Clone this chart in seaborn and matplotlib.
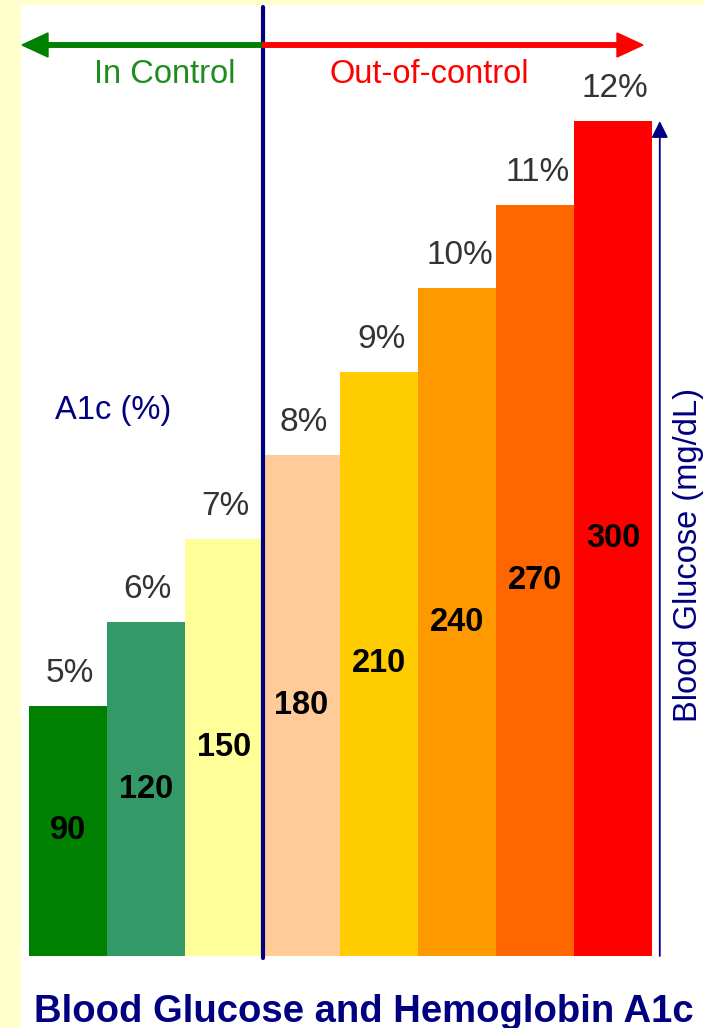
import matplotlib
matplotlib.use("Agg")
import matplotlib.pyplot as plt
from matplotlib.patches import Rectangle, FancyArrow
from matplotlib.transforms import IdentityTransform
import seaborn as sns
import pandas as pd

# A1c level and the matching average blood glucose
a1c_pct = [5, 6, 7, 8, 9, 10, 11, 12]
glucose = [90, 120, 150, 180, 210, 240, 270, 300]
a1c_labels = [f"{v}%" for v in a1c_pct]
bar_colors = ["#008000", "#339966", "#FFFF99", "#FFCC99",
              "#FFCC00", "#FF9900", "#FF6600", "#FF0000"]
n_in_control = 3
zone_labels = ["In Control", "Out-of-control"]
x_label = "A1c (%)"
y_label = "Blood Glucose (mg/dL)"
title = "Blood Glucose and Hemoglobin A1c"

W, H, DPI = 704, 1028, 100
NAVY = "#000080"

sns.set_theme(style="white")
plt.rcParams["font.family"] = ["Liberation Sans", "DejaVu Sans"]


def fx(px):
    return px / W


def fy(py):
    return 1 - py / H


fig = plt.figure(figsize=(W / DPI, H / DPI), dpi=DPI)
fig.patch.set_facecolor("#FFFFCC")
fig.add_artist(Rectangle((fx(21), 0), 1 - fx(21), 1 - 5 / H,
                         transform=fig.transFigure, facecolor="white",
                         edgecolor="none", zorder=0))

# bar panel: 8 contiguous bars, baseline near the bottom
ax = fig.add_axes([fx(29), fy(956), (652 - 29) / W, (956 - 5) / H])
ax.patch.set_visible(False)

df = pd.DataFrame({"a1c": a1c_labels, "glucose": glucose})
sns.barplot(data=df, x="a1c", y="glucose", hue="a1c", palette=bar_colors,
            width=1.0, saturation=1, linewidth=0, legend=False, ax=ax)
ax.set_xlim(-0.5, len(glucose) - 0.5)
ax.set_ylim(0, 951 / 2.783)
ax.axis("off")

for i, (lab, val) in enumerate(zip(a1c_labels, glucose)):
    ax.annotate(lab, (i, val), xytext=(1.5, 17), textcoords="offset points",
                ha="center", va="baseline", fontsize=24, color="#333333")
    ax.text(i, val / 2, str(val), ha="center", va="center", fontsize=23.5,
            fontweight="bold", color="black")

# divider between controlled and uncontrolled levels
div_x = n_in_control - 0.5
ax.axvline(div_x, ymin=-0.002, ymax=0.998, color=NAVY, lw=3, clip_on=False)

# zone arrows along the top
x0 = ax.transData.transform((div_x, 0))[0]
ya = H - 45
for x1, col in [(22, "#008000"), (643, "#FF0000")]:
    fig.add_artist(FancyArrow(x0, ya, x1 - x0, 0, width=4.5, head_width=24,
                              head_length=26, length_includes_head=True,
                              color=col, transform=IdentityTransform()))

fig.text(fx(165), fy(83), zone_labels[0], ha="center", va="baseline",
         fontsize=23.5, color="#1E8C1E")
fig.text(fx(429), fy(83), zone_labels[1], ha="center", va="baseline",
         fontsize=23.5, color="#FF0000")

fig.text(fx(113), fy(411), x_label, ha="center", va="center",
         fontsize=23.5, color=NAVY)

# glucose axis arrow on the right
ax.annotate("", xy=(7.6, max(glucose)), xytext=(7.6, 0),
            arrowprops=dict(arrowstyle="-|>,head_length=0.5,head_width=0.25",
                            color=NAVY, lw=1.3, shrinkA=0, shrinkB=0,
                            mutation_scale=20),
            annotation_clip=False)
fig.text(fx(688), fy(555), y_label, rotation=90, ha="center", va="center",
         fontsize=23.5, color=NAVY)

fig.text(fx(364), fy(1022), title, ha="center", va="baseline",
         fontsize=27.5, fontweight="bold", color=NAVY)

fig.savefig("out.png", dpi=DPI)
